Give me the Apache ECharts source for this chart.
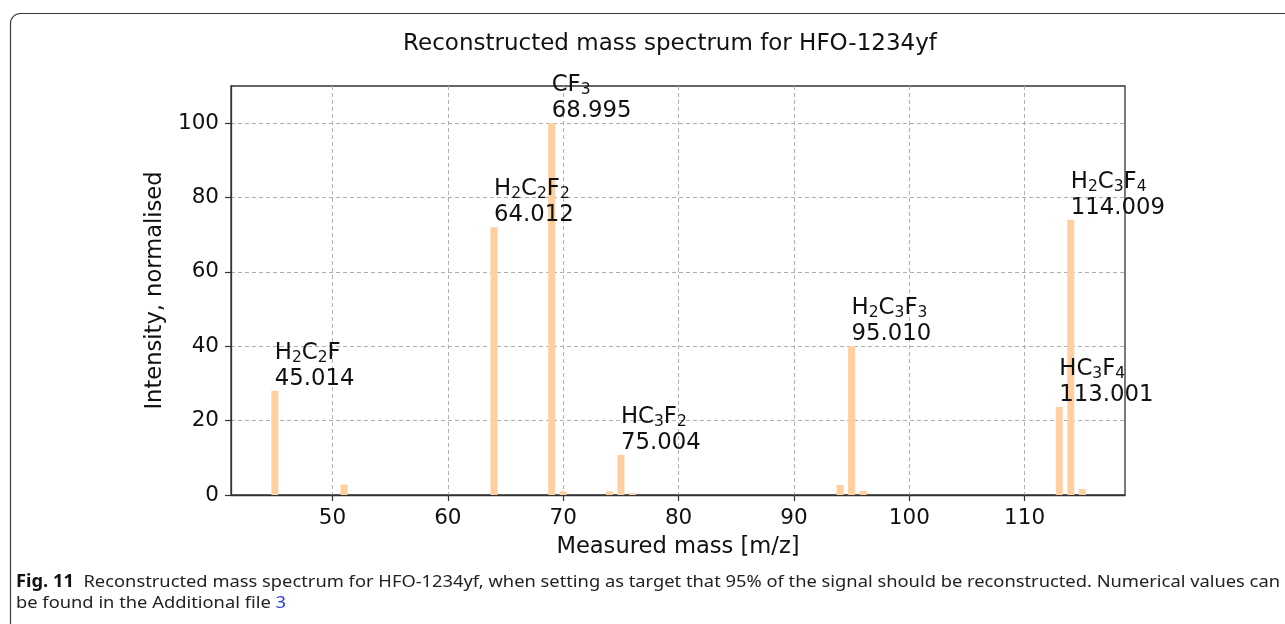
<!DOCTYPE html>
<html>
<head>
<meta charset="utf-8">
<script src="https://cdn.jsdelivr.net/npm/echarts@6/dist/echarts.min.js"></script>
<style>html,body{margin:0;padding:0;background:#fff;}#c{width:1285px;height:624px;}</style>
</head>
<body>
<div id="c"></div>
<script>
// ---- data ----
const masses = [45, 51, 64, 69, 70, 74, 75, 76, 94, 95, 96, 113, 114, 115];
const intensities = [28, 2.8, 72, 100, 1.0, 1.0, 10.8, 0.5, 2.7, 40, 1.1, 23.7, 74, 1.6];
const labelMasses = [45, 64, 69, 75, 95, 113, 114];
const labelFormulas = ['H_2C_2F', 'H_2C_2F_2', 'CF_3', 'HC_3F_2', 'H_2C_3F_3', 'HC_3F_4', 'H_2C_3F_4'];
const labelExact = ['45.014', '64.012', '68.995', '75.004', '95.010', '113.001', '114.009'];
const xTicks = [50, 60, 70, 80, 90, 100, 110];
const yTicks = [0, 20, 40, 60, 80, 100];
const titleText = 'Reconstructed mass spectrum for HFO-1234yf';
const xName = 'Measured mass [m/z]';
const yName = 'Intensity, normalised';
const captionLine1Bold = 'Fig. 11';
const captionLine1 = 'Reconstructed mass spectrum for HFO-1234yf, when setting as target that 95% of the signal should be reconstructed. Numerical values can';
const captionLine2 = 'be found in the Additional file ';
const captionLink = '3';

function formulaRich(f) {
  let out = '';
  for (let i = 0; i < f.length; i++) {
    if (f[i] === '_') { out += '{s|' + f[i + 1] + '}'; i++; }
    else out += '{n|' + f[i] + '}';
  }
  return out;
}

const FONT = 'DejaVu Sans';
const TXT = '#111';

const barData = masses.map((m, i) => {
  const li = labelMasses.indexOf(m);
  const item = { value: [m, intensities[i]] };
  if (li >= 0) {
    item.label = {
      show: true,
      formatter: formulaRich(labelFormulas[li]) + '\n{n|' + labelExact[li] + '}'
    };
  }
  return item;
});

// caption scaling (narrow font imitation)
const cv = document.createElement('canvas').getContext('2d');
const capSize = 17;
cv.font = 'bold ' + capSize + 'px "Noto Sans"';
let w1 = cv.measureText(captionLine1Bold + '  ').width;
cv.font = capSize + 'px "Noto Sans"';
w1 += cv.measureText(captionLine1).width;
const capScale = (1280 - 16) / w1;

const chart = echarts.init(document.getElementById('c'), null, { renderer: 'canvas' });
chart.setOption({
  animation: false,
  backgroundColor: '#fff',
  title: {
    text: titleText,
    left: 665, top: 28,
    textAlign: 'center',
    textStyle: { fontFamily: FONT, fontSize: 23, fontWeight: 'normal', color: TXT }
  },
  grid: { left: 231, right: 160, top: 86, bottom: 129, show: true, borderColor: '#333', borderWidth: 1.3, backgroundColor: 'transparent' },
  xAxis: {
    type: 'value', min: 41.2, max: 118.7,
    name: xName, nameLocation: 'middle', nameGap: 41,
    nameTextStyle: { fontFamily: FONT, fontSize: 22.6, color: TXT },
    axisLine: { show: true, onZero: false, lineStyle: { color: '#333', width: 1.3 } },
    axisTick: { show: true, customValues: xTicks, length: 6, lineStyle: { color: '#333', width: 1.2 } },
    axisLabel: { customValues: xTicks, fontFamily: FONT, fontSize: 21.5, color: TXT, margin: 12 },
    splitLine: { show: true, lineStyle: { color: '#b0b0b0', type: [4, 3], width: 1 } }
  },
  yAxis: {
    type: 'value', min: 0, max: 110,
    name: yName, nameLocation: 'middle', nameGap: 64,
    nameTextStyle: { fontFamily: FONT, fontSize: 22.6, color: TXT },
    axisLine: { show: true, lineStyle: { color: '#333', width: 1.3 } },
    axisTick: { show: true, customValues: yTicks, length: 6, lineStyle: { color: '#333', width: 1.2 } },
    axisLabel: { customValues: yTicks, fontFamily: FONT, fontSize: 21.5, color: TXT, margin: 12 },
    splitLine: { show: true, lineStyle: { color: '#b0b0b0', type: [4, 3], width: 1 } }
  },
  series: [{
    type: 'bar',
    barWidth: 7,
    itemStyle: { color: '#ffcf9f' },
    label: {
      show: false,
      position: 'top',
      align: 'left',
      verticalAlign: 'bottom',
      distance: -1,
      color: TXT,
      rich: {
        n: { fontFamily: FONT, fontSize: 22.8, lineHeight: 26, color: TXT },
        s: { fontFamily: FONT, fontSize: 15.5, lineHeight: 13, verticalAlign: 'bottom', color: TXT }
      }
    },
    data: barData
  }],
  graphic: [
    {
      type: 'rect', silent: true,
      shape: { x: 10.5, y: 13.5, width: 1320, height: 700, r: 10 },
      style: { fill: 'none', stroke: '#3a3a3a', lineWidth: 1.2 }
    },
    {
      type: 'text', x: 16, y: 582, scaleX: capScale, scaleY: 1,
      style: {
        text: '{b|' + captionLine1Bold + '}  ' + captionLine1,
        font: capSize + 'px "Noto Sans"', fill: '#222', verticalAlign: 'middle',
        rich: { b: { fontWeight: 'bold', fontFamily: 'Noto Sans', fontSize: capSize, fill: '#111' } }
      }
    },
    {
      type: 'text', x: 16, y: 603, scaleX: capScale, scaleY: 1,
      style: {
        text: captionLine2 + '{l|' + captionLink + '}',
        font: capSize + 'px "Noto Sans"', fill: '#222', verticalAlign: 'middle',
        rich: { l: { fontFamily: 'Noto Sans', fontSize: capSize, fill: '#2a3bd6' } }
      }
    }
  ]
});
</script>
</body>
</html>
